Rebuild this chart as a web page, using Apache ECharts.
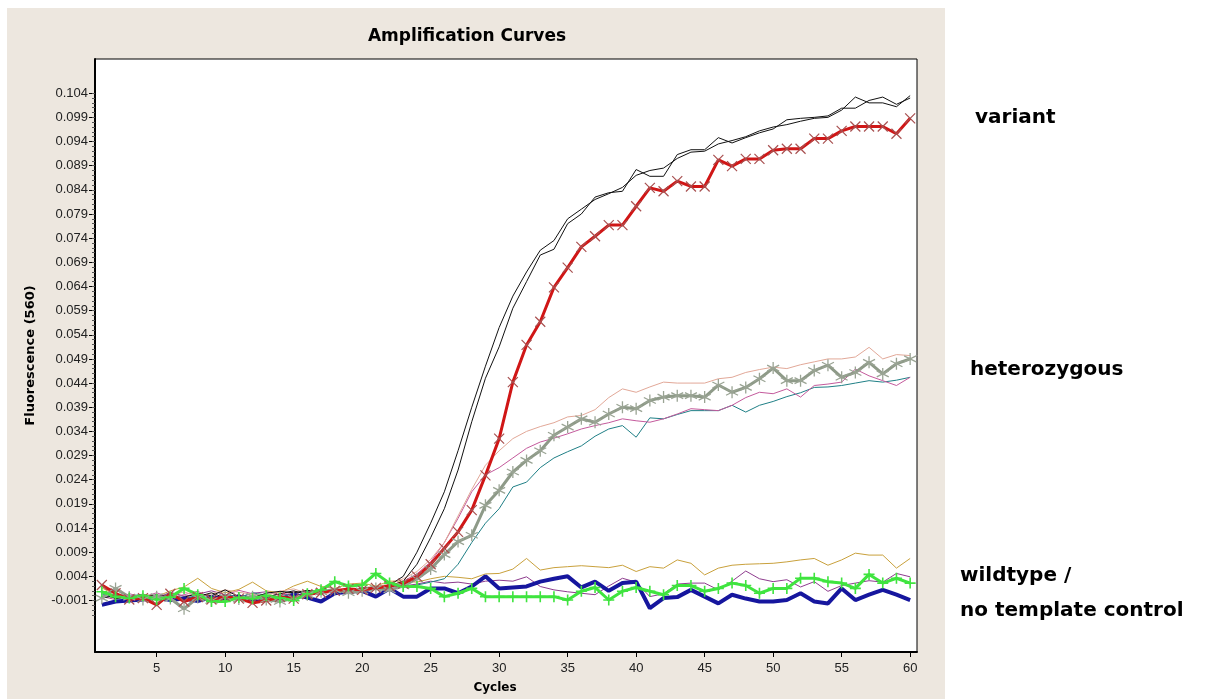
<!DOCTYPE html>
<html><head><meta charset="utf-8">
<script src="https://cdn.jsdelivr.net/npm/echarts@6/dist/echarts.min.js"></script>
<style>html,body{margin:0;padding:0;background:#fff}#c{width:1214px;height:699px}</style>
</head><body><div id="c"></div>
<script>
// ---- data ----
const cycles = Array.from({length: 60}, (_, i) => i + 1);
const xTickValues = [5, 10, 15, 20, 25, 30, 35, 40, 45, 50, 55, 60];
const yTickLabels = ['-0.001','0.004','0.009','0.014','0.019','0.024','0.029','0.034','0.039','0.044','0.049','0.054','0.059','0.064','0.069','0.074','0.079','0.084','0.089','0.094','0.099','0.104'];
const groupLabels = ['variant', 'heterozygous', 'wildtype /', 'no template control'];

const blackA = [-0.0005,0.0,-0.0008,-0.0004,0.0002,-0.0006,-0.0003,0.0004,0.0,0.0012,-0.0002,-0.0004,0.0005,0.0009,0.0006,0.0011,0.0008,0.0014,0.0010,0.0016,0.0015,0.0022,
  0.0040,0.0090,0.0150,0.0215,0.0300,0.0390,0.0475,0.0555,0.0620,0.0670,0.0715,0.0735,0.0780,0.0800,0.0820,0.0832,0.0845,0.0870,0.0880,0.0885,0.0905,0.0918,0.0920,0.0935,0.0942,0.0950,0.0962,0.0970,0.0975,0.0982,0.0988,0.0990,0.1005,0.1032,0.1020,0.1020,0.1012,0.1035];
const blackB = [0.0008,-0.0006,-0.0002,-0.0010,-0.0004,0.0003,-0.0008,-0.0002,0.0006,-0.0005,0.0002,-0.0008,-0.0003,0.0004,0.0010,0.0002,0.0007,0.0012,0.0009,0.0013,0.0018,0.0020,
  0.0030,0.0065,0.0120,0.0180,0.0260,0.0360,0.0450,0.0515,0.0595,0.0650,0.0705,0.0717,0.0770,0.0790,0.0825,0.0834,0.0837,0.0882,0.0868,0.0868,0.0913,0.0923,0.0923,0.0948,0.0937,0.0948,0.0958,0.0966,0.0985,0.0988,0.0990,0.0993,0.1009,0.1009,0.1025,0.1032,0.1017,0.1030];
const redX = [0.0022,0.0005,-0.0008,-0.0005,-0.0019,0.0004,-0.0012,-0.0003,-0.0008,-0.0002,-0.0006,-0.0015,-0.0010,-0.0003,-0.0006,0.0003,0.0006,0.0010,0.0014,0.0012,0.0016,0.0020,
  0.0025,0.0040,0.0065,0.0098,0.0132,0.0177,0.0249,0.0325,0.0442,0.0519,0.0567,0.0638,0.0679,0.0722,0.0744,0.0767,0.0767,0.0806,0.0844,0.0837,0.0858,0.0847,0.0847,0.0902,0.0889,0.0904,0.0904,0.0922,0.0925,0.0925,0.0946,0.0946,0.0962,0.0971,0.0971,0.0971,0.0956,0.0988];
const grayStar = [-0.0005,0.0015,-0.0003,-0.0008,-0.0002,-0.0006,-0.0027,-0.0004,-0.0010,-0.0003,-0.0007,-0.0002,-0.0008,-0.0012,-0.0005,0.0002,0.0008,0.0012,0.0006,0.0010,0.0015,0.0012,
  0.0020,0.0035,0.0055,0.0085,0.0112,0.0125,0.0187,0.0218,0.0256,0.0280,0.0300,0.0332,0.0349,0.0366,0.0359,0.0376,0.0390,0.0387,0.0404,0.0411,0.0414,0.0414,0.0411,0.0436,0.0421,0.0431,0.0449,0.0471,0.0445,0.0445,0.0466,0.0477,0.0452,0.0462,0.0483,0.0459,0.0480,0.0490];
const salmon = [0.0010,0.0003,-0.0004,0.0002,-0.0006,0.0000,0.0008,-0.0002,0.0004,0.0012,0.0007,0.0003,0.0000,0.0009,0.0014,0.0005,0.0010,0.0013,0.0011,0.0017,0.0019,0.0024,
  0.0035,0.0050,0.0075,0.0110,0.0165,0.0220,0.0270,0.0300,0.0325,0.0340,0.0350,0.0358,0.0370,0.0373,0.0385,0.0410,0.0428,0.0421,0.0432,0.0442,0.0440,0.0440,0.0440,0.0449,0.0452,0.0462,0.0468,0.0473,0.0470,0.0478,0.0484,0.0490,0.0490,0.0494,0.0514,0.0490,0.0499,0.0497];
const magenta = [-0.0002,-0.0008,0.0004,-0.0003,0.0006,-0.0004,0.0002,0.0009,-0.0005,0.0001,0.0011,0.0004,-0.0002,0.0003,0.0008,0.0004,0.0009,0.0013,0.0010,0.0014,0.0016,0.0020,
  0.0030,0.0045,0.0070,0.0110,0.0160,0.0215,0.0250,0.0265,0.0285,0.0305,0.0318,0.0326,0.0335,0.0345,0.0352,0.0358,0.0366,0.0362,0.0359,0.0366,0.0376,0.0387,0.0385,0.0383,0.0394,0.0410,0.0421,0.0418,0.0428,0.0411,0.0435,0.0438,0.0442,0.0469,0.0455,0.0445,0.0435,0.0452];
const teal = [0.0004,-0.0006,-0.0001,0.0003,-0.0009,0.0002,-0.0005,0.0000,-0.0007,0.0003,-0.0004,0.0006,0.0001,-0.0003,0.0005,0.0009,0.0006,0.0011,0.0008,0.0012,0.0015,0.0014,
  0.0018,0.0022,0.0028,0.0035,0.0065,0.0110,0.0150,0.0180,0.0225,0.0235,0.0265,0.0285,0.0298,0.0310,0.0330,0.0345,0.0352,0.0328,0.0368,0.0366,0.0375,0.0383,0.0383,0.0383,0.0394,0.0380,0.0394,0.0402,0.0412,0.0420,0.0431,0.0432,0.0435,0.0440,0.0445,0.0442,0.0446,0.0452];
const olive = [0.0016,0.0002,-0.0004,0.0003,-0.0002,0.0010,0.0018,0.0036,0.0015,0.0006,0.0013,0.0028,0.0010,0.0006,0.0020,0.0030,0.0019,0.0015,0.0024,0.0026,0.0020,0.0030,
  0.0030,0.0028,0.0035,0.0040,0.0038,0.0035,0.0045,0.0046,0.0055,0.0077,0.0053,0.0058,0.0060,0.0062,0.0060,0.0058,0.0063,0.0050,0.0060,0.0057,0.0074,0.0067,0.0043,0.0057,0.0063,0.0065,0.0066,0.0067,0.0070,0.0074,0.0077,0.0063,0.0074,0.0088,0.0084,0.0084,0.0057,0.0077];
const purple = [-0.0006,0.0004,-0.0002,0.0001,-0.0005,0.0007,-0.0001,0.0003,0.0010,0.0002,-0.0004,0.0005,0.0008,0.0001,0.0004,0.0010,0.0006,0.0009,0.0012,0.0010,0.0014,0.0018,
  0.0020,0.0024,0.0030,0.0026,0.0028,0.0024,0.0030,0.0032,0.0030,0.0039,0.0019,0.0012,0.0008,0.0005,0.0002,0.0020,0.0036,0.0028,-0.0002,0.0004,0.0024,0.0026,0.0026,0.0012,0.0030,0.0051,0.0035,0.0029,0.0033,0.0018,0.0029,0.0009,0.0021,0.0026,0.0031,0.0028,0.0046,0.0039];
const navy = [-0.0019,-0.0012,-0.0010,-0.0008,-0.0004,-0.0009,-0.0006,-0.0011,-0.0003,-0.0007,-0.0002,-0.0009,-0.0005,-0.0010,0.0002,-0.0004,-0.0012,0.0005,0.0008,0.0010,-0.0002,0.0015,
  -0.0002,-0.0002,0.0015,0.0015,0.0005,0.0019,0.0040,0.0015,0.0017,0.0019,0.0029,0.0035,0.0040,0.0017,0.0029,0.0010,0.0026,0.0029,-0.0026,-0.0005,-0.0003,0.0012,-0.0002,-0.0016,0.0002,-0.0006,-0.0012,-0.0012,-0.0009,0.0005,-0.0012,-0.0016,0.0015,-0.0009,0.0002,0.0012,0.0002,-0.0009];
const greenPlus = [0.0008,-0.0002,-0.0005,0.0000,-0.0008,-0.0003,0.0015,0.0002,-0.0012,-0.0012,-0.0004,-0.0006,0.0000,-0.0005,-0.0010,0.0004,0.0012,0.0029,0.0020,0.0022,0.0046,0.0026,
  0.0019,0.0019,0.0015,-0.0002,0.0005,0.0015,-0.0002,-0.0002,-0.0002,-0.0002,-0.0002,-0.0002,-0.0009,0.0009,0.0017,-0.0009,0.0009,0.0017,0.0009,0.0002,0.0021,0.0021,0.0009,0.0015,0.0026,0.0021,0.0005,0.0015,0.0015,0.0036,0.0036,0.0029,0.0026,0.0015,0.0044,0.0026,0.0036,0.0026];

// ---- chart ----
const yTickValues = yTickLabels.map(Number);
const minorTickValues = [];
for (let k = -4; k <= 104; k++) minorTickValues.push(k / 1000);
const Y_MIN = -0.01166, Y_MAX = 0.11108;

const pts = arr => cycles.map((c, i) => [c, arr[i]]);
const SYM_X = 'path://M0,0L10,10M0,10L10,0';
const SYM_STAR = 'path://M5,0L5,10M0.7,2.5L9.3,7.5M0.7,7.5L9.3,2.5';
const SYM_PLUS = 'path://M5,0L5,10M0,5L10,5';

function thin(name, arr, color, w) {
  return {name, type: 'line', data: pts(arr), showSymbol: false, symbol: 'none',
    lineStyle: {color, width: w || 1}, itemStyle: {color}, z: 2};
}
function marked(name, arr, color, w, sym, symColor, symSize, symW) {
  return {name, type: 'line', data: pts(arr), symbol: sym, symbolSize: symSize, showAllSymbol: true,
    lineStyle: {color, width: w}, itemStyle: {color: 'rgba(0,0,0,0)', borderColor: symColor, borderWidth: symW}, z: 3};
}

const chart = echarts.init(document.getElementById('c'), null, {renderer: 'canvas'});
const labelFont = {fontFamily: 'Liberation Sans', fontSize: 13, color: '#222'};
const sideFont = {fontFamily: 'DejaVu Sans', fontWeight: 'bold', fontSize: 20, fill: '#000', textAlign: 'left', textVerticalAlign: 'middle'};
chart.setOption({
  animation: false,
  backgroundColor: '#ffffff',
  graphic: [
    {type: 'rect', z: -100, silent: true, shape: {x: 7, y: 8, width: 938, height: 691}, style: {fill: '#ede7df'}},
    {type: 'text', x: 467, y: 37, style: {text: 'Amplification Curves', fontFamily: 'DejaVu Sans', fontWeight: 'bold', fontSize: 17, fill: '#000', textAlign: 'center', textVerticalAlign: 'middle'}},
    {type: 'text', x: 975, y: 118, style: Object.assign({text: groupLabels[0]}, sideFont)},
    {type: 'text', x: 970, y: 370, style: Object.assign({text: groupLabels[1]}, sideFont)},
    {type: 'text', x: 960, y: 576, style: Object.assign({text: groupLabels[2]}, sideFont)},
    {type: 'text', x: 960, y: 611, style: Object.assign({text: groupLabels[3]}, sideFont)}
  ],
  grid: {left: 95, top: 59, right: 1214 - 917, bottom: 699 - 654, show: true, backgroundColor: '#ffffff', borderColor: '#000', borderWidth: 1, containLabel: false},
  xAxis: {
    type: 'value', min: 0.5, max: 60.5,
    name: 'Cycles', nameLocation: 'middle', nameGap: 30,
    nameTextStyle: {fontFamily: 'DejaVu Sans', fontWeight: 'bold', fontSize: 12, color: '#000', padding: [0, 22, 0, 0]},
    axisLine: {show: true, onZero: false, lineStyle: {color: '#000', width: 2}},
    axisTick: {show: true, length: 5, lineStyle: {color: '#000'}, customValues: xTickValues},
    axisLabel: Object.assign({margin: 10, customValues: xTickValues, formatter: v => String(v)}, labelFont),
    splitLine: {show: false}
  },
  yAxis: [{
    type: 'value', min: Y_MIN, max: Y_MAX,
    name: 'Fluorescence (560)', nameLocation: 'middle', nameGap: 58, nameRotate: 90,
    nameTextStyle: {fontFamily: 'DejaVu Sans', fontWeight: 'bold', fontSize: 13, color: '#000'},
    axisLine: {show: true, onZero: false, lineStyle: {color: '#000', width: 2}},
    axisTick: {show: true, length: 6, lineStyle: {color: '#000'}, customValues: yTickValues},
    axisLabel: Object.assign({margin: 7, customValues: yTickValues, formatter: v => v.toFixed(3)}, labelFont),
    splitLine: {show: false}
  }, {
    type: 'value', min: Y_MIN, max: Y_MAX, position: 'left', offset: 0,
    axisLine: {show: false, onZero: false},
    axisTick: {show: true, length: 3, lineStyle: {color: '#555'}, customValues: minorTickValues},
    axisLabel: {show: false},
    splitLine: {show: false}
  }],
  series: [
    thin('olive', olive, '#c9a13c'),
    thin('purple', purple, '#8e3c8e'),
    thin('teal', teal, '#1f7f86'),
    thin('magenta', magenta, '#c45a9c'),
    thin('salmon', salmon, '#e2a898'),
    thin('blackA', blackA, '#111111'),
    thin('blackB', blackB, '#111111'),
    marked('grayStar', grayStar, '#8e9a88', 3, SYM_STAR, '#9aa494', 12, 1.3),
    marked('redX', redX, '#d01616', 3, SYM_X, '#a85050', 10, 1.2),
    thin('navy', navy, '#16169e', 4),
    marked('greenPlus', greenPlus, '#3fe43f', 3, SYM_PLUS, '#3fe43f', 11, 1.6)
  ]
});
</script></body></html>
